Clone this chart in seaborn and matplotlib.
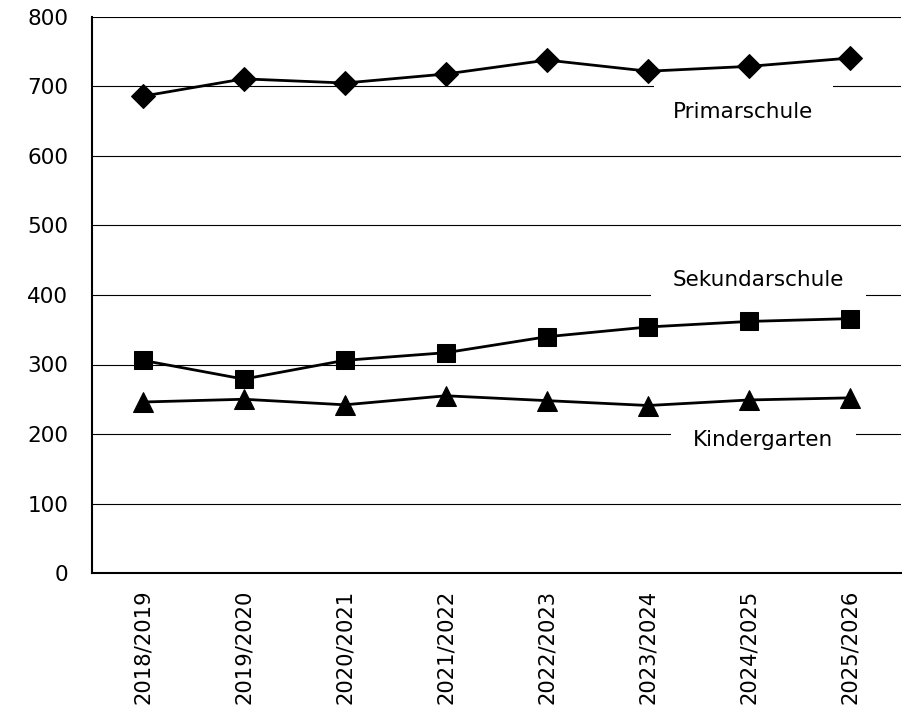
import matplotlib
matplotlib.use('Agg')
import matplotlib.pyplot as plt
import seaborn as sns
import pandas as pd

# Schuljahre und Schülerzahlen
years = ['2018/2019', '2019/2020', '2020/2021', '2021/2022',
         '2022/2023', '2023/2024', '2024/2025', '2025/2026']
primarschule = [686, 711, 705, 718, 738, 722, 729, 741]
sekundarschule = [306, 279, 306, 317, 340, 354, 362, 366]
kindergarten = [246, 250, 242, 255, 248, 241, 249, 252]

series_names = ['Primarschule', 'Sekundarschule', 'Kindergarten']
series_values = [primarschule, sekundarschule, kindergarten]

rows = []
for name, vals in zip(series_names, series_values):
    for i, v in enumerate(vals):
        rows.append({'idx': i, 'Jahr': years[i], 'Anzahl': v, 'Stufe': name})
df = pd.DataFrame(rows)

sns.set_style('white')
plt.rcParams['font.family'] = ['DejaVu Sans']
plt.rcParams['text.color'] = 'black'
plt.rcParams['xtick.color'] = 'black'
plt.rcParams['ytick.color'] = 'black'

fig = plt.figure(figsize=(9.02, 7.10), dpi=100)
ax = fig.add_axes([92 / 902, (710 - 573) / 710, 809 / 902, 556 / 710])

ax.set_ylim(0, 800)
ax.set_xlim(-0.5, 7.5)
ax.set_yticks(range(0, 801, 100))
ax.grid(axis='y', color='black', linewidth=0.8)
ax.set_axisbelow(True)

marker_map = {'Primarschule': 'D', 'Sekundarschule': 's', 'Kindergarten': '^'}
size_map = {'Primarschule': 12, 'Sekundarschule': 13, 'Kindergarten': 15}
for name in series_names:
    sub = df[df['Stufe'] == name]
    sns.lineplot(data=sub, x='idx', y='Anzahl', ax=ax, color='black',
                 linewidth=2, marker=marker_map[name],
                 markersize=size_map[name], markeredgecolor='black',
                 markerfacecolor='black', legend=False, zorder=3)

ax.set_xticks(range(len(years)))
ax.set_xticklabels(years, rotation=90)
ax.set_xlabel('')
ax.set_ylabel('')
ax.tick_params(axis='y', length=0, pad=17, labelsize=15.5)
ax.tick_params(axis='x', length=0, pad=12, labelsize=15.2)

for s in ['top', 'right']:
    ax.spines[s].set_visible(False)
for s in ['left', 'bottom']:
    ax.spines[s].set_color('black')
    ax.spines[s].set_linewidth(1.5)

# Serienbeschriftungen mit weissem Hintergrund
labels = [('Primarschule', 5.94, 663, 14), ('Sekundarschule', 6.09, 421, 16),
          ('Kindergarten', 6.14, 191, 16)]
for text, xp, yp, pad in labels:
    ax.text(xp, yp, text, fontsize=15.5, ha='center', va='center', zorder=2.5,
            bbox=dict(facecolor='white', edgecolor='none', pad=pad))

plt.savefig('out.png', dpi=100)
plt.close()
